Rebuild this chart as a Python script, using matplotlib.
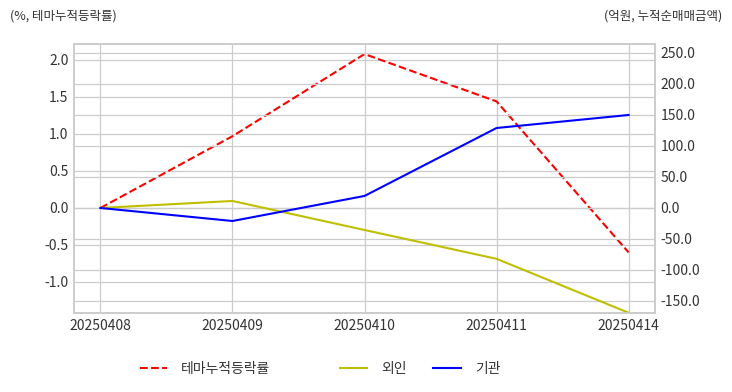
import numpy as np
import matplotlib
matplotlib.use("Agg")
import matplotlib.pyplot as plt
from matplotlib.lines import Line2D

plt.rcParams["font.family"] = ["Noto Sans CJK KR", "DejaVu Sans"]
plt.rcParams["axes.unicode_minus"] = False

dates = ["20250408", "20250409", "20250410", "20250411", "20250414"]
theme_ret = [0.0, 0.97, 2.08, 1.44, -0.60]
foreign = [0.0, 11.3, -35.5, -82.0, -169.0]
institution = [0.0, -21.0, 19.4, 129.0, 150.0]

grid_c = "#cccccc"
text_c = "#333333"

fig = plt.figure(figsize=(7.32, 3.92), dpi=100)
ax = fig.add_axes([74 / 732, 1 - 313 / 392, (655 - 74) / 732, (313 - 44) / 392])
ax2 = ax.twinx()

x = np.arange(len(dates))
ax.plot(x, theme_ret, color="r", linestyle="--", linewidth=1.5, label="테마누적등락률")
ax2.plot(x, foreign, color="y", linewidth=1.5, label="외인")
ax2.plot(x, institution, color="b", linewidth=1.5, label="기관")

ax.set_xlim(-0.2, 4.2)
ax.set_ylim(-1.419, 2.216)
ax2.set_ylim(-169.4, 264.5)
ax.set_yticks(np.arange(-1.0, 2.01, 0.5))
ax2.set_yticks(np.arange(-150, 251, 50))
ax.set_yticklabels([f"{v:.1f}" for v in np.arange(-1.0, 2.01, 0.5)])
ax2.set_yticklabels([f"{v:.1f}" for v in np.arange(-150, 251, 50)])
ax.set_xticks(x)
ax.set_xticklabels(dates)

for a in (ax, ax2):
    a.grid(True, color=grid_c, linewidth=0.9)
    a.tick_params(length=0, labelsize=10, labelcolor=text_c, pad=4)
    for s in a.spines.values():
        s.set_color(grid_c)
        s.set_linewidth(1.2)
ax2.grid(True, axis="y", color=grid_c, linewidth=0.9)
ax2.grid(False, axis="x")
ax.set_axisbelow(True)
ax2.set_axisbelow(True)

fig.text(10 / 732, 1 - 16 / 392, "(%, 테마누적등락률)", fontsize=9, color=text_c, va="center", ha="left")
fig.text(722 / 732, 1 - 16 / 392, "(억원, 누적순매매금액)", fontsize=9, color=text_c, va="center", ha="right")

h1 = [Line2D([], [], color="r", linestyle="--", linewidth=1.5)]
h2 = [Line2D([], [], color="y", linewidth=1.5), Line2D([], [], color="b", linewidth=1.5)]
leg1 = fig.legend(h1, ["테마누적등락률"], loc="center left", bbox_to_anchor=(127 / 732, 1 - 369 / 392),
                  frameon=False, fontsize=10, handlelength=2, handletextpad=1.0)
leg2 = fig.legend(h2, ["외인", "기관"], loc="center left", bbox_to_anchor=(327 / 732, 1 - 369 / 392),
                  frameon=False, fontsize=10, handlelength=2, handletextpad=1.0, ncol=2, columnspacing=1.9)
for lg in (leg1, leg2):
    for t in lg.get_texts():
        t.set_color(text_c)

fig.savefig("out.png", dpi=100)
